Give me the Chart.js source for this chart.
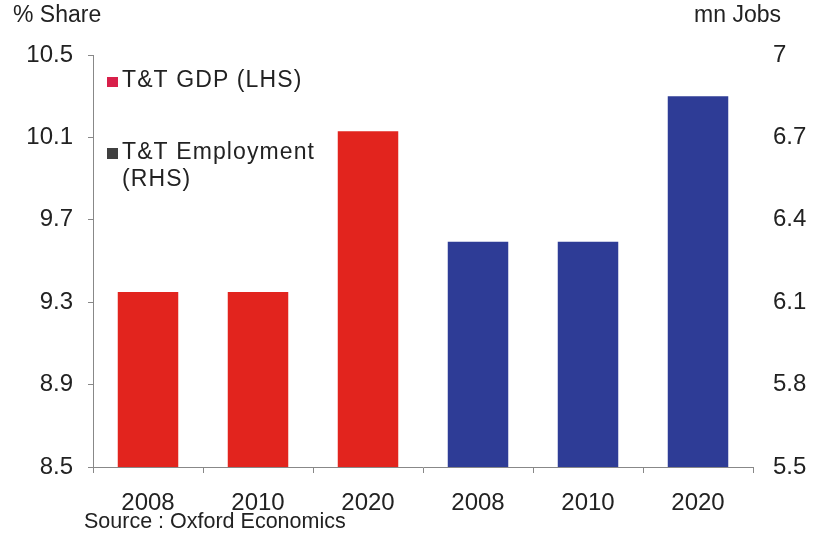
<!DOCTYPE html>
<html>
<head>
<meta charset="utf-8">
<script src="https://cdn.jsdelivr.net/npm/chart.js@4.4.0/dist/chart.umd.min.js"></script>
<style>
  html, body { margin: 0; padding: 0; background: #fff; }
  #wrap { position: relative; width: 821px; height: 540px; }
</style>
</head>
<body>
<div id="wrap"><canvas id="chart" width="821" height="540"></canvas></div>
<script>
// Categories and values
const years = ['2008', '2010', '2020', '2008', '2010', '2020'];
const gdpShare = [9.35, 9.35, 10.13, null, null, null];      // % share, left axis
const employment = [null, null, null, 6.32, 6.32, 6.85];     // mn jobs, right axis
const leftTicks = [8.5, 8.9, 9.3, 9.7, 10.1, 10.5];
const rightTicks = [5.5, 5.8, 6.1, 6.4, 6.7, 7];

const RED = 'rgb(226, 36, 30)';
const BLUE = 'rgb(46, 60, 150)';
const FONT = '"Liberation Sans", Arial, sans-serif';

// Axis titles, legend and source note drawn on the canvas
const annotations = {
    id: 'annotations',
    afterDraw(chart) {
        const ctx = chart.ctx;
        ctx.save();
        ctx.fillStyle = '#222';
        ctx.textBaseline = 'middle';
        ctx.font = '23px ' + FONT;
        ctx.textAlign = 'left';
        ctx.fillText('% Share', 13, 16);
        ctx.textAlign = 'right';
        ctx.fillText('mn Jobs', 781, 16);

        // legend
        ctx.textAlign = 'left';
        ctx.fillStyle = '#d8204a';
        ctx.fillRect(107, 77, 11, 10);
        ctx.fillStyle = '#404040';
        ctx.fillRect(107, 148, 11, 11);
        ctx.fillStyle = '#222';
        ctx.font = '23px ' + FONT;
        ctx.letterSpacing = '1.1px';
        ctx.fillText('T&T GDP (LHS)', 122, 81);
        ctx.fillText('T&T Employment', 122, 153);
        ctx.fillText('(RHS)', 122, 180);
        ctx.letterSpacing = '0px';

        // source
        ctx.textBaseline = 'alphabetic';
        ctx.font = '21.5px ' + FONT;
        ctx.fillText('Source : Oxford Economics', 84, 528);
        ctx.restore();
    }
};

new Chart(document.getElementById('chart'), {
    type: 'bar',
    data: {
        labels: years,
        datasets: [
            {
                label: 'T&T GDP (LHS)',
                data: gdpShare,
                backgroundColor: RED,
                yAxisID: 'y',
                grouped: false,
                categoryPercentage: 1,
                barPercentage: 0.55
            },
            {
                label: 'T&T Employment (RHS)',
                data: employment,
                backgroundColor: BLUE,
                yAxisID: 'y1',
                grouped: false,
                categoryPercentage: 1,
                barPercentage: 0.55
            }
        ]
    },
    options: {
        responsive: false,
        animation: false,
        layout: { padding: { top: 55, left: 0, right: 0, bottom: 0 } },
        plugins: {
            legend: { display: false },
            tooltip: { enabled: false }
        },
        scales: {
            x: {
                grid: {
                    offset: true,
                    drawOnChartArea: false,
                    drawTicks: true,
                    tickLength: 6,
                    color: '#888'
                },
                border: { display: true, color: '#888' },
                ticks: {
                    color: '#222',
                    font: { family: FONT, size: 24 },
                    padding: 16
                },
                afterFit(scale) { scale.height = 73; }
            },
            y: {
                position: 'left',
                min: 8.5,
                max: 10.5,
                afterBuildTicks(scale) {
                    scale.ticks = leftTicks.map(v => ({ value: v }));
                },
                grid: {
                    drawOnChartArea: false,
                    drawTicks: true,
                    tickLength: 5,
                    color: '#888'
                },
                border: { display: true, color: '#888' },
                ticks: {
                    color: '#222',
                    font: { family: FONT, size: 24 },
                    padding: 15,
                    callback: v => String(v)
                },
                afterFit(scale) { scale.width = 93; }
            },
            y1: {
                position: 'right',
                min: 5.5,
                max: 7,
                afterBuildTicks(scale) {
                    scale.ticks = rightTicks.map(v => ({ value: v }));
                },
                grid: { display: false, drawTicks: false },
                border: { display: false },
                ticks: {
                    color: '#222',
                    font: { family: FONT, size: 24 },
                    padding: 20,
                    callback: v => String(v)
                },
                afterFit(scale) { scale.width = 68; }
            }
        }
    },
    plugins: [annotations]
});
</script>
</body>
</html>
